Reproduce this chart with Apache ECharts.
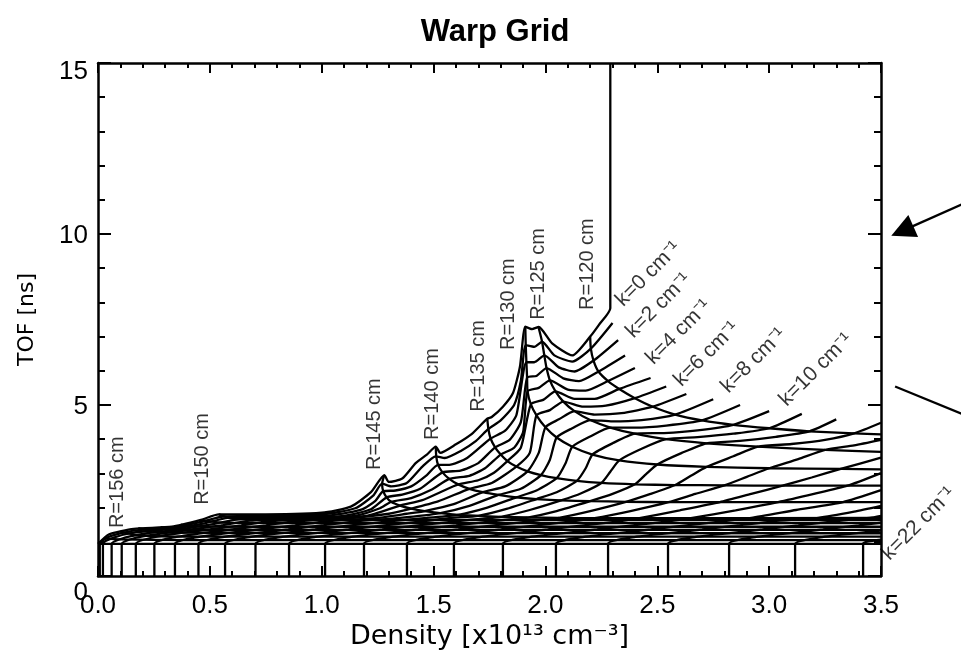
<!DOCTYPE html>
<html>
<head>
<meta charset="utf-8">
<script src="https://cdn.jsdelivr.net/npm/echarts@6/dist/echarts.min.js"></script>
<style>
  html, body { margin: 0; background: #fff; }
  #container { width: 961px; height: 654px; }
</style>
</head>
<body>
<div id="container"></div>
<script>
// TOF of the vacuum path (bottom line of the grid)
var baseLine = [[0, 0.94], [3.5, 0.94]];

// lines of constant k (k = 0 .. 22 cm-1), each starts at the bottom
var kLines = [
  [[0,0.94],[0.05,1.22],[0.16,1.38],[0.33,1.44],[0.46,1.64],[0.54,1.80],[0.7,1.80],[1.0,1.85],[1.13,2.03],[1.22,2.45],[1.28,2.95],[1.30,2.75],[1.36,2.85],[1.42,3.3],[1.47,3.55],[1.51,3.78],[1.53,3.6],[1.6,3.85],[1.67,4.15],[1.74,4.6],[1.76,4.65],[1.81,4.95],[1.855,5.35],[1.886,6.12],[1.91,7.29],[1.94,7.22],[1.97,7.28],[2.03,6.8],[2.12,6.45],[2.2,7.0],[2.24,7.35],[2.29,7.83],[2.29,15]],
  [[0.008,0],[0.008,0.94],[0.05,1.15],[0.16,1.33],[0.33,1.41],[0.46,1.58],[0.56,1.74],[0.75,1.76],[1.0,1.80],[1.15,1.98],[1.23,2.35],[1.27,2.70],[1.31,2.62],[1.38,2.72],[1.45,3.2],[1.51,3.50],[1.55,3.45],[1.62,3.65],[1.69,3.95],[1.745,4.30],[1.80,4.55],[1.86,5.0],[1.89,5.7],[1.912,6.75],[1.95,6.70],[1.985,6.85],[2.04,6.45],[2.12,6.27],[2.203,6.65],[2.30,7.40]],
  [[0.022,0],[0.022,0.94],[0.07,1.12],[0.17,1.28],[0.33,1.38],[0.47,1.53],[0.58,1.70],[0.8,1.73],[1.05,1.78],[1.18,1.95],[1.24,2.2],[1.275,2.48],[1.33,2.5],[1.4,2.62],[1.47,2.95],[1.52,3.25],[1.57,3.25],[1.65,3.45],[1.755,4.02],[1.82,4.25],[1.87,4.7],[1.915,6.25],[1.95,6.25],[1.995,6.45],[2.06,6.1],[2.13,5.98],[2.215,6.30],[2.325,6.90]],
  [[0.061,0],[0.061,0.94],[0.12,1.12],[0.22,1.25],[0.36,1.36],[0.5,1.50],[0.62,1.65],[0.85,1.70],[1.1,1.76],[1.22,1.95],[1.29,2.30],[1.36,2.38],[1.44,2.55],[1.54,3.03],[1.62,3.08],[1.70,3.3],[1.775,3.76],[1.84,3.98],[1.89,4.5],[1.918,5.80],[1.96,5.85],[2.005,6.08],[2.08,5.78],[2.15,5.7],[2.237,5.98],[2.356,6.45]],
  [[0.106,0],[0.106,0.94],[0.17,1.12],[0.28,1.24],[0.42,1.36],[0.55,1.48],[0.68,1.62],[0.9,1.68],[1.15,1.76],[1.26,1.98],[1.31,2.17],[1.40,2.28],[1.49,2.52],[1.57,2.84],[1.66,2.93],[1.73,3.15],[1.80,3.55],[1.86,3.75],[1.90,4.2],[1.92,5.40],[1.97,5.5],[2.02,5.72],[2.1,5.45],[2.18,5.42],[2.28,5.70],[2.40,6.08]],
  [[0.169,0],[0.169,0.94],[0.24,1.12],[0.36,1.25],[0.5,1.36],[0.64,1.48],[0.76,1.6],[0.98,1.66],[1.2,1.76],[1.35,2.06],[1.45,2.22],[1.53,2.45],[1.61,2.68],[1.7,2.8],[1.77,3.02],[1.83,3.36],[1.89,3.75],[1.935,5.02],[1.99,5.15],[2.045,5.40],[2.13,5.18],[2.22,5.18],[2.33,5.47],[2.47,5.79]],
  [[0.252,0],[0.252,0.94],[0.33,1.12],[0.45,1.24],[0.6,1.36],[0.75,1.48],[0.88,1.6],[1.1,1.68],[1.3,1.82],[1.40,1.97],[1.52,2.18],[1.66,2.55],[1.76,2.72],[1.87,3.20],[1.93,3.6],[1.96,4.70],[2.02,4.85],[2.08,5.10],[2.17,4.95],[2.27,4.98],[2.40,5.20],[2.54,5.54]],
  [[0.344,0],[0.344,0.94],[0.43,1.12],[0.56,1.24],[0.72,1.36],[0.88,1.48],[1.02,1.6],[1.25,1.7],[1.38,1.82],[1.46,1.90],[1.59,2.10],[1.72,2.45],[1.82,2.62],[1.92,3.06],[1.97,3.6],[2.00,4.35],[2.06,4.58],[2.13,4.82],[2.22,4.72],[2.34,4.76],[2.48,4.95],[2.63,5.32]],
  [[0.449,0],[0.449,0.94],[0.54,1.12],[0.68,1.24],[0.85,1.36],[1.0,1.48],[1.15,1.6],[1.35,1.7],[1.53,1.84],[1.66,2.05],[1.79,2.37],[1.89,2.55],[1.98,2.95],[2.02,3.4],[2.05,4.05],[2.12,4.32],[2.20,4.56],[2.30,4.52],[2.43,4.56],[2.58,4.72],[2.75,5.17]],
  [[0.568,0],[0.568,0.94],[0.66,1.12],[0.8,1.24],[0.97,1.36],[1.13,1.48],[1.3,1.6],[1.47,1.7],[1.61,1.79],[1.74,2.0],[1.87,2.30],[1.96,2.5],[2.05,2.86],[2.09,3.3],[2.12,3.78],[2.2,4.08],[2.29,4.34],[2.40,4.34],[2.54,4.4],[2.70,4.55],[2.87,5.0]],
  [[0.704,0],[0.704,0.94],[0.80,1.12],[0.95,1.24],[1.12,1.36],[1.28,1.48],[1.45,1.6],[1.58,1.7],[1.70,1.76],[1.83,1.97],[1.96,2.25],[2.05,2.45],[2.14,2.78],[2.18,3.15],[2.21,3.55],[2.30,3.88],[2.40,4.16],[2.53,4.18],[2.68,4.26],[2.84,4.42],[3.00,4.82]],
  [[0.854,0],[0.854,0.94],[0.95,1.12],[1.1,1.24],[1.27,1.36],[1.43,1.48],[1.6,1.6],[1.72,1.68],[1.80,1.73],[1.93,1.93],[2.07,2.21],[2.16,2.42],[2.25,2.72],[2.29,3.05],[2.33,3.38],[2.43,3.72],[2.54,4.00],[2.68,4.06],[2.84,4.16],[3.00,4.32],[3.146,4.74]],
  [[1.015,0],[1.015,0.94],[1.11,1.12],[1.26,1.24],[1.43,1.36],[1.6,1.48],[1.76,1.6],[1.86,1.67],[1.92,1.71],[2.05,1.9],[2.20,2.19],[2.30,2.4],[2.40,2.68],[2.45,2.98],[2.50,3.26],[2.61,3.6],[2.72,3.88],[2.87,3.95],[3.03,4.07],[3.18,4.23],[3.30,4.58]],
  [[1.189,0],[1.189,0.94],[1.29,1.12],[1.44,1.24],[1.61,1.36],[1.77,1.48],[1.93,1.6],[2.0,1.66],[2.06,1.70],[2.2,1.9],[2.36,2.17],[2.47,2.4],[2.58,2.66],[2.65,2.93],[2.72,3.19],[2.84,3.5],[2.95,3.78],[3.1,3.86],[3.25,3.98],[3.38,4.17],[3.5,4.48]],
  [[1.381,0],[1.381,0.94],[1.48,1.12],[1.63,1.24],[1.8,1.36],[1.96,1.48],[2.12,1.6],[2.22,1.69],[2.38,1.9],[2.55,2.16],[2.67,2.4],[2.80,2.65],[2.90,2.9],[3.00,3.15],[3.13,3.42],[3.25,3.69],[3.38,3.82],[3.5,3.98]],
  [[1.591,0],[1.591,0.94],[1.69,1.12],[1.84,1.24],[2.01,1.36],[2.17,1.48],[2.33,1.6],[2.42,1.69],[2.6,1.92],[2.78,2.16],[2.92,2.4],[3.06,2.64],[3.19,2.88],[3.32,3.13],[3.5,3.46]],
  [[1.81,0],[1.81,0.94],[1.91,1.12],[2.06,1.24],[2.23,1.36],[2.39,1.48],[2.55,1.6],[2.65,1.69],[2.85,1.92],[3.04,2.16],[3.2,2.4],[3.35,2.64],[3.5,3.01]],
  [[2.047,0],[2.047,0.94],[2.15,1.12],[2.3,1.24],[2.47,1.36],[2.63,1.48],[2.79,1.6],[2.92,1.70],[3.12,1.93],[3.33,2.16],[3.5,2.51]],
  [[2.28,0],[2.28,0.94],[2.38,1.12],[2.53,1.24],[2.7,1.36],[2.86,1.48],[3.02,1.6],[3.22,1.70],[3.38,1.88],[3.5,2.05]],
  [[2.548,0],[2.548,0.94],[2.65,1.12],[2.8,1.24],[2.97,1.36],[3.13,1.48],[3.29,1.6],[3.45,1.70],[3.5,1.76]],
  [[2.821,0],[2.821,0.94],[2.92,1.12],[3.07,1.24],[3.24,1.36],[3.4,1.48],[3.5,1.56]],
  [[3.116,0],[3.116,0.94],[3.22,1.12],[3.37,1.24],[3.5,1.33]],
  [[3.42,0],[3.42,0.94],[3.5,1.06]]
];

// lines of constant cutoff radius R
var rLines = [
  [[2.2,7.0],[2.203,6.65],[2.215,6.3],[2.237,5.98],[2.28,5.70],[2.33,5.47],[2.40,5.20],[2.48,4.95],[2.58,4.72],[2.70,4.55],[2.84,4.42],[3.0,4.32],[3.18,4.23],[3.38,4.17],[3.5,4.14]],
  [[1.97,7.25],[1.985,6.85],[1.995,6.45],[2.005,6.08],[2.02,5.72],[2.045,5.40],[2.08,5.10],[2.13,4.82],[2.20,4.56],[2.29,4.34],[2.40,4.16],[2.54,4.00],[2.72,3.88],[2.95,3.78],[3.25,3.69],[3.5,3.63]],
  [[1.91,7.29],[1.912,6.75],[1.915,6.25],[1.918,5.80],[1.92,5.40],[1.935,5.02],[1.96,4.70],[2.0,4.35],[2.05,4.05],[2.12,3.78],[2.21,3.55],[2.33,3.38],[2.50,3.26],[2.72,3.19],[3.0,3.15],[3.32,3.13],[3.5,3.12]],
  [[1.74,4.60],[1.745,4.30],[1.755,4.02],[1.775,3.76],[1.80,3.55],[1.83,3.36],[1.87,3.20],[1.92,3.06],[1.98,2.95],[2.05,2.86],[2.14,2.78],[2.25,2.72],[2.40,2.68],[2.58,2.66],[2.80,2.65],[3.06,2.64],[3.35,2.64],[3.5,2.64]],
  [[1.51,3.78],[1.512,3.50],[1.52,3.25],[1.54,3.03],[1.57,2.84],[1.61,2.68],[1.66,2.55],[1.72,2.45],[1.79,2.37],[1.87,2.30],[1.96,2.25],[2.07,2.21],[2.20,2.19],[2.36,2.17],[2.55,2.16],[3.5,2.16]],
  [[1.28,2.95],[1.27,2.70],[1.275,2.48],[1.29,2.30],[1.31,2.17],[1.35,2.06],[1.40,1.97],[1.46,1.90],[1.53,1.84],[1.61,1.79],[1.70,1.76],[1.80,1.73],[1.92,1.71],[2.06,1.70],[2.4,1.69],[3.5,1.70]],
  [[0.54,1.80],[0.6,1.68],[0.8,1.65],[1.5,1.64],[3.5,1.64]],
  [[0.46,1.64],[0.55,1.56],[0.8,1.55],[3.5,1.55]],
  [[0.37,1.50],[0.45,1.45],[0.7,1.44],[3.5,1.44]],
  [[0.28,1.43],[0.4,1.36],[0.7,1.35],[3.5,1.35]],
  [[0.18,1.40],[0.3,1.28],[0.6,1.26],[3.5,1.25]],
  [[0.10,1.30],[0.2,1.18],[0.5,1.15],[3.5,1.15]],
  [[0.03,1.10],[0.1,1.07],[0.4,1.05],[3.5,1.05]]
];

// text labels
var rLabelText = ['R=156 cm', 'R=150 cm', 'R=145 cm', 'R=140 cm', 'R=135 cm', 'R=130 cm', 'R=125 cm', 'R=120 cm'];
var rLabelAt = [[0.089, 1.40], [0.465, 2.08], [1.238, 3.10], [1.493, 3.98], [1.699, 4.80], [1.833, 6.61], [1.967, 7.49], [2.186, 7.78]];
var kLabelText = ['k=0 cm⁻¹', 'k=2 cm⁻¹', 'k=4 cm⁻¹', 'k=6 cm⁻¹', 'k=8 cm⁻¹', 'k=10 cm⁻¹', 'k=22 cm⁻¹'];
var kLabelAt = [[2.33, 7.98], [2.375, 7.06], [2.465, 6.28], [2.59, 5.64], [2.80, 5.45], [3.06, 5.06], [3.52, 0.56]];

// the two pointers outside the frame on the right
var arrowIn = [[3.87, 10.89], [3.595, 10.09]];
var lineOut = [[3.563, 5.54], [3.87, 4.72]];

var FONT = 'Liberation Sans';
var black = '#000';
var LW = 2.3;

var dom = document.getElementById('container');
var myChart = echarts.init(dom, null, {renderer: 'canvas'});

var series = [];

function addLine(pts) {
  series.push({
    type: 'line',
    data: pts,
    symbol: 'none',
    smooth: 0.2,
    silent: true,
    lineStyle: {color: black, width: LW}
  });
}

addLine(baseLine);
for (var i = 0; i < kLines.length; i++) addLine(kLines[i]);
for (var j = 0; j < rLines.length; j++) addLine(rLines[j]);

series.push({
  type: 'scatter',
  data: rLabelAt.map(function (p, i) { return {value: p, name: rLabelText[i]}; }),
  symbolSize: 0,
  silent: true,
  label: {
    show: true,
    position: 'inside',
    formatter: '{b}',
    rotate: 90,
    align: 'left',
    verticalAlign: 'middle',
    fontFamily: FONT,
    fontSize: 20,
    color: black
  }
});

series.push({
  type: 'scatter',
  data: kLabelAt.map(function (p, i) { return {value: p, name: kLabelText[i]}; }),
  symbolSize: 0,
  silent: true,
  clip: false,
  label: {
    show: true,
    position: 'inside',
    formatter: '{b}',
    rotate: 45,
    align: 'left',
    verticalAlign: 'middle',
    fontFamily: FONT,
    fontSize: 21,
    color: black
  }
});

series.push({
  type: 'lines',
  coordinateSystem: 'cartesian2d',
  clip: false,
  silent: true,
  symbol: ['none', 'triangle'],
  symbolSize: 24,
  lineStyle: {color: black, width: LW, opacity: 1},
  data: [{coords: arrowIn}]
});

series.push({
  type: 'lines',
  coordinateSystem: 'cartesian2d',
  clip: false,
  silent: true,
  symbol: ['none', 'none'],
  lineStyle: {color: black, width: LW, opacity: 1},
  data: [{coords: lineOut}]
});

var axisLineStyle = {color: black, width: 2.5};

function frameAxis(extra) {
  var a = {
    type: 'value',
    axisLine: {onZero: false, lineStyle: axisLineStyle},
    splitLine: {show: false}
  };
  for (var key in extra) a[key] = extra[key];
  return a;
}

var option = {
  backgroundColor: '#fff',
  animation: false,
  title: {
    text: 'Warp Grid',
    left: 490,
    top: 12,
    textAlign: 'center',
    textStyle: {fontFamily: FONT, fontWeight: 'bold', fontSize: 31, color: black}
  },
  grid: {left: 98, right: 80, top: 63, bottom: 78, outerBoundsMode: 'none', containLabel: false},
  xAxis: [
    frameAxis({
      min: 0, max: 3.5, interval: 0.5, position: 'bottom',
      name: 'Density [x10¹³ cm⁻³]', nameLocation: 'middle', nameGap: 42,
      nameTextStyle: {fontFamily: 'DejaVu Sans', fontSize: 27, color: black},
      axisTick: {inside: true, length: 10, lineStyle: {color: black, width: 2}},
      minorTick: {show: true, splitNumber: 5, length: 5, lineStyle: {color: black, width: 2}},
      axisLabel: {formatter: function (v) { return v.toFixed(1); }, fontFamily: FONT, fontSize: 26, color: black, margin: 17}
    }),
    frameAxis({
      min: 0, max: 3.5, interval: 0.5, position: 'top',
      axisTick: {inside: true, length: 10, lineStyle: {color: black, width: 2}},
      minorTick: {show: true, splitNumber: 5, length: 5, lineStyle: {color: black, width: 2}},
      axisLabel: {show: false}
    })
  ],
  yAxis: [
    frameAxis({
      min: 0, max: 15, interval: 5, position: 'left',
      name: 'TOF [ns]', nameLocation: 'middle', nameGap: 60, nameRotate: 90,
      nameTextStyle: {fontFamily: 'DejaVu Sans', fontSize: 22, color: black},
      axisTick: {inside: true, length: 13, lineStyle: {color: black, width: 2}},
      minorTick: {show: true, splitNumber: 5, length: 7, lineStyle: {color: black, width: 2}},
      axisLabel: {
        margin: 10,
        formatter: function (v) {
          if (v === 0) return '{lo|0}';
          if (v === 15) return '{hi|15}';
          return '{n|' + v + '}';
        },
        rich: {
          lo: {fontFamily: FONT, fontSize: 26, color: black, padding: [34, 0, 0, 0]},
          hi: {fontFamily: FONT, fontSize: 26, color: black, padding: [18, 0, 0, 0]},
          n: {fontFamily: FONT, fontSize: 26, color: black, padding: [4, 0, 0, 0]}
        }
      }
    }),
    frameAxis({
      min: 0, max: 15, interval: 5, position: 'right',
      axisTick: {inside: true, length: 13, lineStyle: {color: black, width: 2}},
      minorTick: {show: true, splitNumber: 5, length: 7, lineStyle: {color: black, width: 2}},
      axisLabel: {show: false}
    })
  ],
  series: series
};

myChart.setOption(option);
</script>
</body>
</html>
